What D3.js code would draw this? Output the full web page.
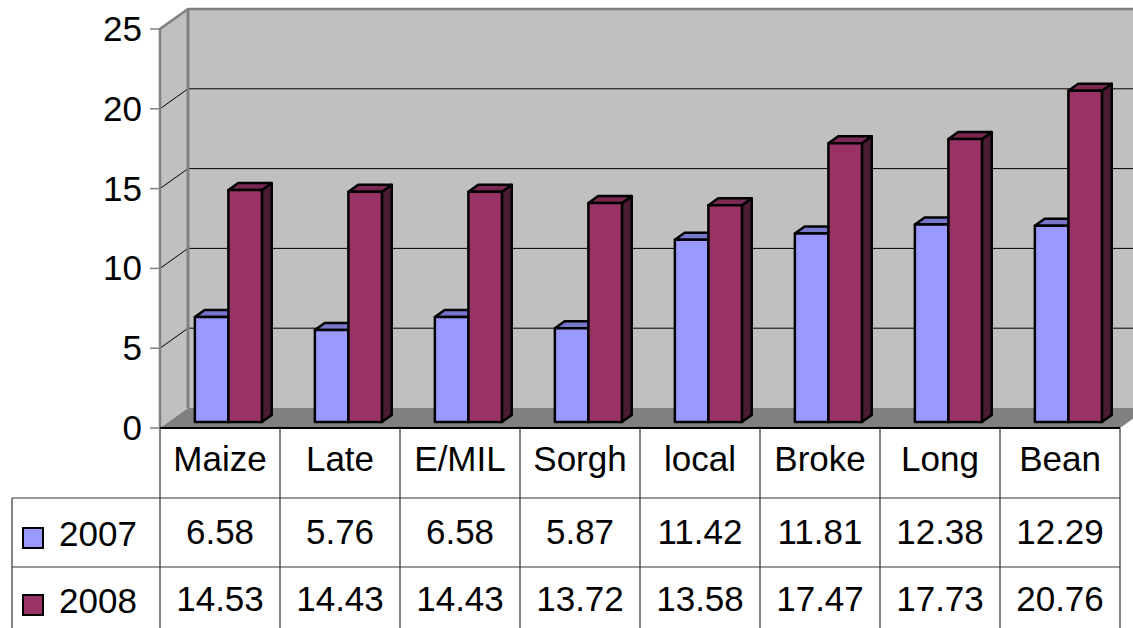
<!DOCTYPE html>
<html>
<head>
<meta charset="utf-8">
<script src="https://cdn.jsdelivr.net/npm/d3@7"></script>
<style>
  body { margin: 0; background: #fff; }
  svg { display: block; font-family: "Liberation Sans", Arial, sans-serif; }
</style>
</head>
<body>
<div id="chart"></div>
<script>
const categories = ["Maize", "Late", "E/MIL", "Sorgh", "local", "Broke", "Long", "Bean"];
const seriesNames = ["2007", "2008"];
const values2007 = [6.58, 5.76, 6.58, 5.87, 11.42, 11.81, 12.38, 12.29];
const values2008 = [14.53, 14.43, 14.43, 13.72, 13.58, 17.47, 17.73, 20.76];
const yTicks = [0, 5, 10, 15, 20, 25];

const FRONT = "#9999FF";
const FRONT2 = "#993366";
const colors = {
  "2007": { front: FRONT, top: "#7777cc", side: "#4d4d80" },
  "2008": { front: FRONT2, top: "#7a2952", side: "#4d1a33" }
};

const width = 1133, height = 628;
const left = 160, right = 1120, floorY = 428;
const DX = 28, DY = -20; // wall depth offset

const svg = d3.select("#chart").append("svg")
  .attr("width", width).attr("height", height);

const y = d3.scaleLinear().domain([0, 25]).range([floorY, 29]);
const x0 = d3.scaleBand().domain(categories).range([left, right]);
const x1 = d3.scaleBand().domain(seriesNames).range([0, x0.bandwidth()])
  .paddingInner(0).paddingOuter(0.79);

// back wall, side wall, floor
svg.append("rect")
  .attr("x", left + DX).attr("y", y(25) + DY)
  .attr("width", right - left + 10).attr("height", floorY - y(25))
  .attr("fill", "#c0c0c0");
svg.append("polygon")
  .attr("points", [[left, y(25)], [left + DX, y(25) + DY], [left + DX, floorY + DY], [left, floorY]].join(" "))
  .attr("fill", "#c0c0c0");
svg.append("polygon")
  .attr("points", [[left, floorY], [left + DX, floorY + DY], [right + DX, floorY + DY], [right, floorY]].join(" "))
  .attr("fill", "#808080");

// gridlines
yTicks.filter(t => t > 0 && t < 25).forEach(t => {
  svg.append("polyline")
    .attr("points", [[left, y(t)], [left + DX, y(t) + DY], [right + DX, y(t) + DY]].join(" "))
    .attr("fill", "none").attr("stroke", "#000").attr("stroke-width", 1);
});

// wall edges
const edge = "#808080";
svg.append("polyline")
  .attr("points", [[left, floorY], [left, y(25)], [left + DX, y(25) + DY], [right + DX, y(25) + DY]].join(" "))
  .attr("fill", "none").attr("stroke", edge).attr("stroke-width", 2.5);
svg.append("line")
  .attr("x1", left + DX).attr("x2", left + DX)
  .attr("y1", y(25) + DY).attr("y2", floorY + DY)
  .attr("stroke", edge).attr("stroke-width", 3);

// y ticks and labels
svg.selectAll(".ytick").data(yTicks).join("line")
  .attr("x1", left - 10).attr("x2", left)
  .attr("y1", d => y(d)).attr("y2", d => y(d))
  .attr("stroke", edge).attr("stroke-width", 1.5);
svg.selectAll(".ylab").data(yTicks).join("text")
  .attr("x", 142).attr("y", d => y(d) + 12)
  .attr("text-anchor", "end").attr("font-size", 35)
  .text(d => d);

// bars
const fd = 0.3, bd = 0.65; // bar depth fractions
const bx0 = DX * fd, by0 = DY * fd;
const ddx = DX * (bd - fd), ddy = DY * (bd - fd);
const barData = [];
categories.forEach((c, i) => {
  barData.push({ c, s: "2007", v: values2007[i] });
  barData.push({ c, s: "2008", v: values2008[i] });
});
const bars = svg.append("g").selectAll("g").data(barData).join("g")
  .attr("stroke", "#000").attr("stroke-width", 2.5).attr("stroke-linejoin", "round");
bars.each(function (d) {
  const g = d3.select(this);
  const xa = x0(d.c) + x1(d.s) + bx0;
  const xb = xa + x1.bandwidth();
  const yt = y(d.v) + by0;
  const yb = y(0) + by0;
  g.append("polygon")
    .attr("points", [[xb, yt], [xb + ddx, yt + ddy], [xb + ddx, yb + ddy], [xb, yb]].join(" "))
    .attr("fill", colors[d.s].side);
  g.append("polygon")
    .attr("points", [[xa, yt], [xa + ddx, yt + ddy], [xb + ddx, yt + ddy], [xb, yt]].join(" "))
    .attr("fill", colors[d.s].top);
  g.append("rect")
    .attr("x", xa).attr("y", yt).attr("width", xb - xa).attr("height", yb - yt)
    .attr("fill", colors[d.s].front);
});

// data table
const rowTop = [floorY, 498, 567];
const rowBase = [471, 544, 611];
const tableLeft = 12;
const lineColor = "#333";

svg.append("line")
  .attr("x1", left).attr("x2", right).attr("y1", floorY).attr("y2", floorY)
  .attr("stroke", "#000").attr("stroke-width", 2);
[498, 567].forEach(yy => {
  svg.append("line")
    .attr("x1", tableLeft).attr("x2", right).attr("y1", yy).attr("y2", yy)
    .attr("stroke", lineColor).attr("stroke-width", 1.2);
});
svg.append("line")
  .attr("x1", tableLeft).attr("x2", tableLeft).attr("y1", 498).attr("y2", height)
  .attr("stroke", lineColor).attr("stroke-width", 1.2);
const bounds = categories.map(c => x0(c)).concat([right]);
svg.selectAll(".vline").data(bounds).join("line")
  .attr("x1", d => d).attr("x2", d => d)
  .attr("y1", floorY).attr("y2", height)
  .attr("stroke", lineColor).attr("stroke-width", 1.2);

svg.selectAll(".cat").data(categories).join("text")
  .attr("x", d => x0(d) + x0.bandwidth() / 2).attr("y", rowBase[0])
  .attr("text-anchor", "middle").attr("font-size", 35)
  .text(d => d);

[values2007, values2008].forEach((vals, r) => {
  svg.selectAll(".val" + r).data(vals).join("text")
    .attr("x", (d, i) => x0(categories[i]) + x0.bandwidth() / 2).attr("y", rowBase[r + 1])
    .attr("text-anchor", "middle").attr("font-size", 35)
    .text(d => d.toFixed(2));
  svg.append("rect")
    .attr("x", 23).attr("y", rowBase[r + 1] - 16).attr("width", 20).attr("height", 20)
    .attr("fill", colors[seriesNames[r]].front)
    .attr("stroke", "#000").attr("stroke-width", 2);
  svg.append("text")
    .attr("x", 59).attr("y", rowBase[r + 1] + 2)
    .attr("font-size", 35)
    .text(seriesNames[r]);
});
</script>
</body>
</html>
